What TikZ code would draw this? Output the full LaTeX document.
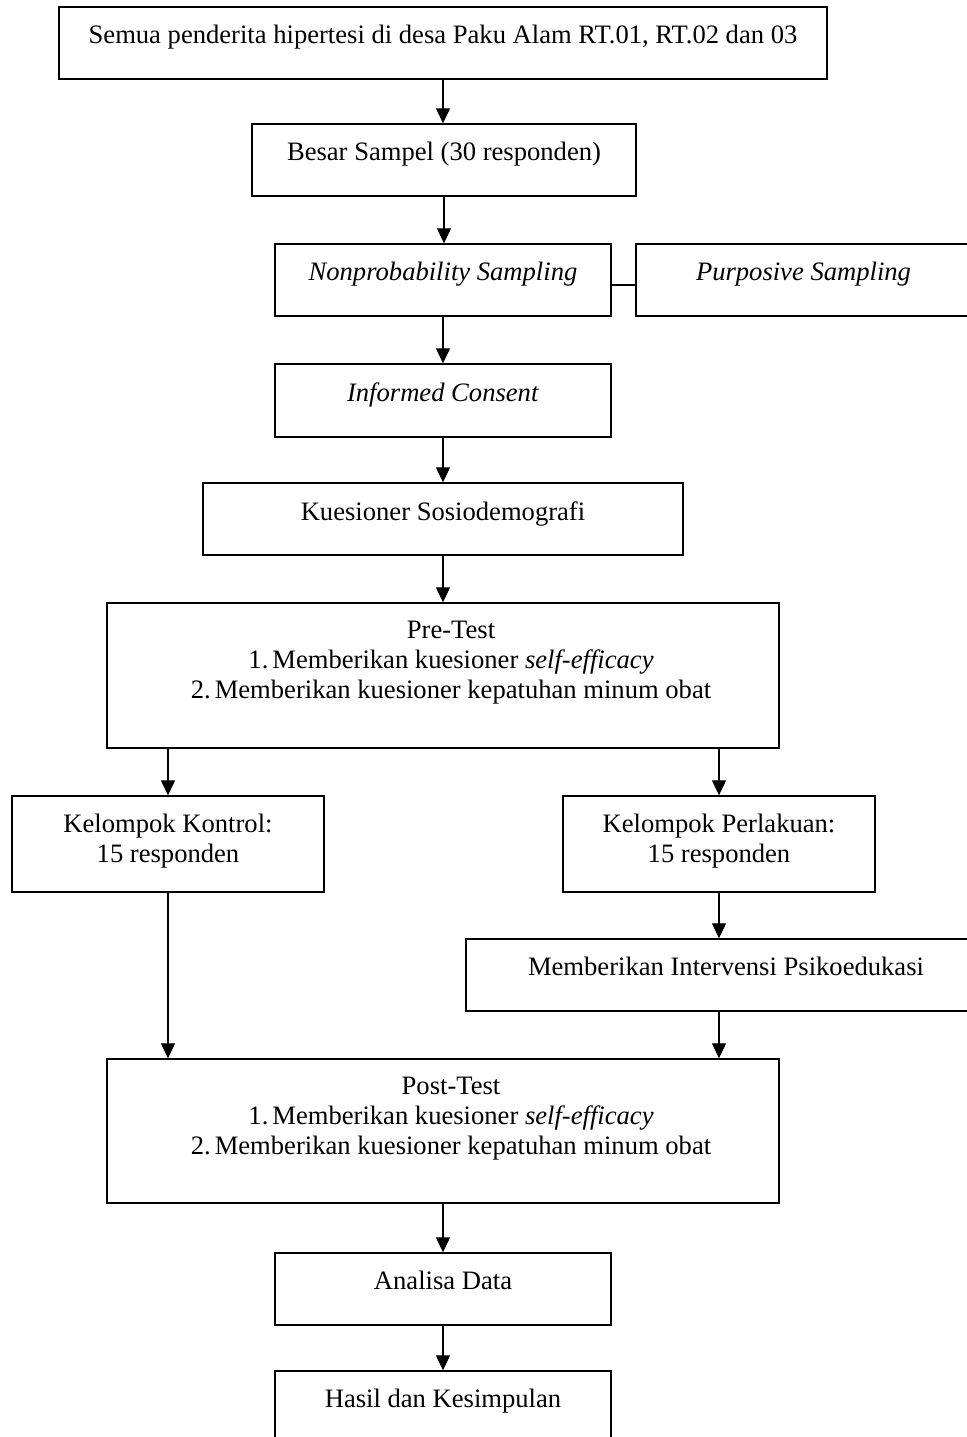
\documentclass[tikz,border=0pt]{standalone}
\usepackage{fontspec}
\setmainfont{Liberation Serif}
\usetikzlibrary{fit,arrows.meta,calc}
\begin{document}
\begin{tikzpicture}[x=0.5pt,y=-0.5pt,
 box/.style={draw, line width=0.7pt, inner sep=0pt},
 txt/.style={anchor=north, inner sep=0pt, align=center, font=\fontsize{13.3pt}{15pt}\selectfont},
 arr/.style={line width=0.6pt, -{Triangle[length=7.5pt,width=7pt]}},
 ln/.style={line width=0.6pt}]
\useasboundingbox (0,0) rectangle (966,1437);
% boxes
\node[box, fit={(59,7)(827,79)}] (b1) {};
\node[txt] (t1) at (443,25) {Semua penderita hipertesi di desa Paku Alam RT.01, RT.02 dan 03};
\node[box, fit={(252,124)(636,196)}] (b2) {};
\node[txt] (t2) at (444,142) {Besar Sampel (30 responden)};
\node[box, fit={(275,244)(611,316)}] (b3) {};
\node[txt] (t3) at (443,262) {\textit{Nonprobability Sampling}};
\node[box, fit={(636,244)(971,316)}] (b3r) {};
\node[txt] (t3r) at (803.5,262) {\textit{Purposive Sampling}};
\node[box, fit={(275,364)(611,437)}] (b4) {};
\node[txt] (t4) at (443,382) {\textit{Informed Consent}};
\node[box, fit={(203,483)(683,555)}] (b5) {};
\node[txt] (t5) at (443,501) {Kuesioner Sosiodemografi};
\node[box, fit={(107,603)(779,748)}] (b6) {};
\node[txt] (t6) at (451,621) {Pre-Test\\1.\hspace{2pt}Memberikan kuesioner \textit{self-efficacy}\\2.\hspace{2pt}Memberikan kuesioner kepatuhan minum obat};
\node[box, fit={(12,796)(324,892)}] (b7) {};
\node[txt] (t7) at (168,814) {Kelompok Kontrol:\\15 responden};
\node[box, fit={(563,796)(875,892)}] (b8) {};
\node[txt] (t8) at (719,814) {Kelompok Perlakuan:\\15 responden};
\node[box, fit={(466,939)(986,1011)}] (b9) {};
\node[txt] (t9) at (726,957) {Memberikan Intervensi Psikoedukasi};
\node[box, fit={(107,1059)(779,1203)}] (b10) {};
\node[txt] (t10) at (451,1077) {Post-Test\\1.\hspace{2pt}Memberikan kuesioner \textit{self-efficacy}\\2.\hspace{2pt}Memberikan kuesioner kepatuhan minum obat};
\node[box, fit={(275,1253)(611,1325)}] (b11) {};
\node[txt] (t11) at (443,1271) {Analisa Data};
\node[box, fit={(275,1371)(611,1460)}] (b12) {};
\node[txt] (t12) at (443,1389) {Hasil dan Kesimpulan};
% connectors
\draw[arr] (b1.south) -- (b1.south |- b2.north);
\draw[arr] (b2.south) -- (b2.south |- b3.north);
\draw[ln] ([yshift=-2.5pt]b3.east) -- ([yshift=-2.5pt]b3r.west);
\draw[arr] (b3.south) -- (b4.north);
\draw[arr] (b4.south) -- (b4.south |- b5.north);
\draw[arr] (b5.south) -- (b5.south |- b6.north);
\draw[arr] (b6.south -| b7.north) -- (b7.north);
\draw[arr] (b6.south -| b8.north) -- (b8.north);
\draw[arr] (b8.south) -- (b8.south |- b9.north);
\draw[arr] (b7.south) -- (b7.south |- b10.north);
\draw[arr] (b9.south -| b8.south) -- (b10.north -| b8.south);
\draw[arr] (b10.south) -- (b10.south |- b11.north);
\draw[arr] (b11.south) -- (b11.south |- b12.north);
\end{tikzpicture}
\end{document}
